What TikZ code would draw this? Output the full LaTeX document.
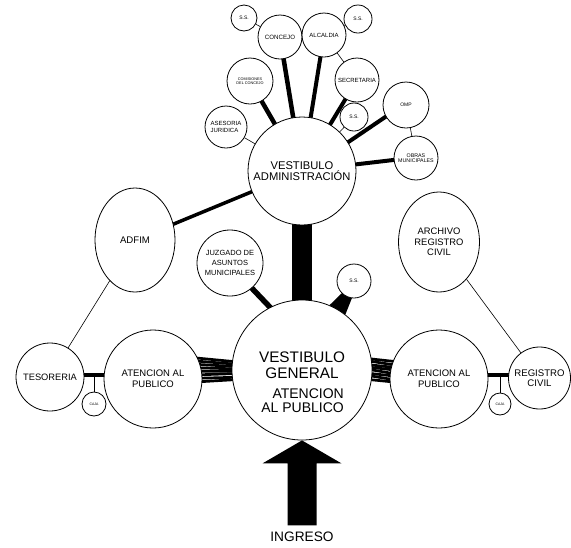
\documentclass[tikz,border=0pt]{standalone}
\usepackage{fontspec}
\setmainfont{Liberation Sans}
\usetikzlibrary{shapes.geometric,backgrounds}
\begin{document}
\begin{tikzpicture}[x=1pt,y=-1pt,
  bub/.style={circle,draw,line width=0.8pt,fill=white,inner sep=0pt,align=center},
  oval/.style={ellipse,draw,line width=0.8pt,fill=white,inner sep=0pt,align=center},
  link/.style={line width=0.6pt},
  heavy/.style={line width=#1,shorten <=-4pt,shorten >=-4pt},
  txt/.style={inner sep=0pt,align=center}]
\useasboundingbox (0,0) rectangle (571,547);
% top cluster
\node[bub,minimum size=26pt,font=\fontsize{5}{6}\selectfont] (ss1) at (244,18) {S.S.};
\node[bub,minimum size=44pt,font=\fontsize{6.2}{7}\selectfont] (concejo) at (280,37) {CONCEJO};
\node[bub,minimum size=44pt,font=\fontsize{6}{7}\selectfont] (alcaldia) at (324,35) {ALCALDIA};
\node[bub,minimum size=28pt,font=\fontsize{5}{6}\selectfont] (ss2) at (358,19) {S.S.};
\node[bub,minimum size=44pt,font=\fontsize{6}{7}\selectfont] (secretaria) at (357,80) {SECRETARIA};
\node[bub,minimum size=46pt,font=\fontsize{3.8}{4.2}\selectfont] (comisiones) at (250,81) {COMISIONES\\DEL CONCEJO};
\node[bub,minimum size=42pt,align=left,font=\fontsize{6}{6.5}\selectfont] (asesoria) at (226,127) {ASESORIA\\JURIDICA};
\node[bub,minimum size=28pt,font=\fontsize{5}{6}\selectfont] (ss4) at (354,117) {S.S.};
\node[bub,minimum size=46pt,font=\fontsize{5}{6}\selectfont] (omp) at (406,105) {OMP};
\node[bub,minimum size=44pt,font=\fontsize{5.3}{5.6}\selectfont] (obras) at (416,158) {OBRAS\\MUNICIPALES};
\node[bub,minimum size=108pt,font=\fontsize{11.2}{11.5}\selectfont] (vadm) at (302,171) {VESTIBULO\\ADMINISTRACIÓN};
% middle
\node[oval,minimum width=80pt,minimum height=104pt,font=\fontsize{9.6}{10.5}\selectfont] (adfim) at (135,240) {ADFIM};
\node[bub,minimum size=66pt,font=\fontsize{7.5}{10}\selectfont] (juz) at (230,263) {JUZGADO DE\\ASUNTOS\\MUNICIPALES};
\node[bub,minimum size=34pt,font=\fontsize{5}{6}\selectfont] (ss5) at (354,281) {S.S.};
\node[oval,minimum width=81pt,minimum height=100pt,font=\fontsize{9.4}{10.5}\selectfont] (arc) at (439,242) {ARCHIVO\\REGISTRO\\CIVIL};
% bottom row
\node[bub,minimum size=68pt,font=\fontsize{9.3}{10}\selectfont] (tes) at (50,377) {TESORERIA};
\node[bub,minimum size=24pt,font=\fontsize{3.5}{4}\selectfont] (cajal) at (94,404) {CAJA};
\node[bub,minimum size=98pt,font=\fontsize{9.5}{11}\selectfont] (atl) at (153,379) {ATENCION AL\\PUBLICO};
\node[bub,minimum size=140pt] (vg) at (302,370) {};
\node[txt,font=\fontsize{15.3}{16}\selectfont] (vgt) at (302,365) {VESTIBULO\\GENERAL};
\node[txt,anchor=east,align=right,font=\fontsize{14}{14}\selectfont] (vga) at (344,401) {ATENCION\\AL PUBLICO};
\node[bub,minimum size=98pt,font=\fontsize{9.5}{11}\selectfont] (atr) at (439,379) {ATENCION AL\\PUBLICO};
\node[bub,minimum size=62pt,font=\fontsize{9.6}{10.5}\selectfont] (rc) at (539.5,378) {REGISTRO\\CIVIL};
\node[bub,minimum size=22pt,font=\fontsize{3.5}{4}\selectfont] (cajar) at (500,404) {CAJA};
% entrance arrow
\fill (vg.south) -- ++(39.5,23) -- ++(-25,0) -- ++(0,62) -- ++(-29,0) -- ++(0,-62) -- ++(-25,0) -- cycle;
\node[txt,font=\fontsize{13.7}{14}\selectfont] (ingreso) at (302,537) {INGRESO};
% thin connectors
\draw[link] (ss1) -- (concejo);
\draw[link] (ss2) -- (alcaldia);
\draw[link] (alcaldia) -- (secretaria);
\draw[link] (asesoria) -- (vadm);
\draw[link] (ss4) -- (vadm);
\draw[link] (omp) -- (obras);
\draw[link] (adfim) -- (tes);
\draw[link] (arc) -- (rc);
\draw[link] (cajal.north) -- (cajal.north |- 0,375);
\draw[link] (cajar.north) -- (cajar.north |- 0,375);
\begin{scope}[on background layer]
\draw[heavy=4.5pt] (concejo) -- (vadm);
\draw[heavy=4pt] (alcaldia) -- (vadm);
\draw[heavy=4.5pt] (comisiones) -- (vadm);
\draw[heavy=4pt] (secretaria) -- (vadm);
\draw[heavy=4pt] (omp.210) -- (vadm.32);
\draw[heavy=4pt] (obras.185) -- (vadm.7);
\draw[heavy=3.5pt] (adfim) -- (vadm);
\draw[line width=20pt] (vadm.center) -- (vg.center);
\draw[heavy=5.5pt] (juz.-49) -- (vg.117);
\fill (ss5.225) -- (ss5.263) -- (vg.52) -- (vg.67) -- cycle;
\foreach \i in {0,...,7} {\draw[heavy=2.7pt] (atl.{25-\i*4}) -- (vg.{173.4+\i*2.1});}
\foreach \i in {0,...,7} {\draw[heavy=2.7pt] (vg.{9.9-\i*2.6}) -- (atr.{159.7+\i*3.4});}
\draw[line width=3.5pt] (tes.center |- 0,375) -- (atl.center |- 0,375);
\draw[line width=3.5pt] (atr.center |- 0,375) -- (rc.center |- 0,375);
\end{scope}
\end{tikzpicture}
\end{document}
